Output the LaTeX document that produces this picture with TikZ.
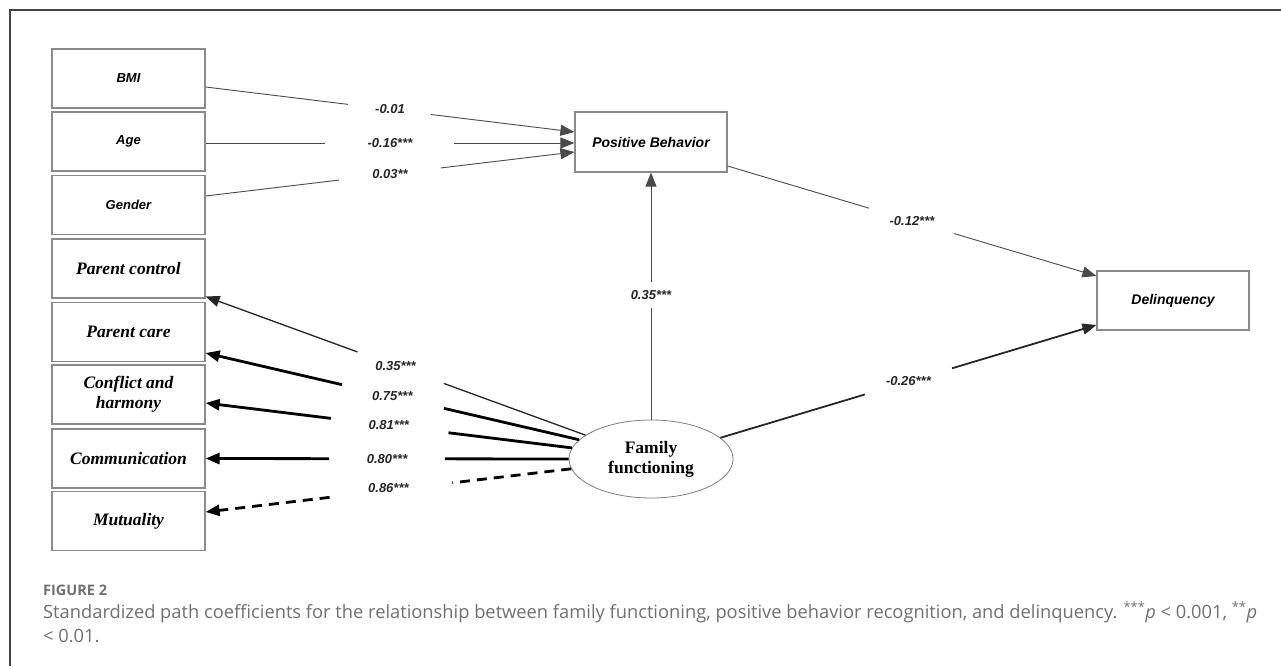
\documentclass[tikz,border=0pt]{standalone}
\usepackage{fontspec}
\setmainfont{Liberation Serif}
\newfontfamily\arialf{Liberation Sans}
\newfontfamily\capf{Open Sans}
\usetikzlibrary{arrows.meta,calc,shapes.geometric}
\definecolor{framec}{HTML}{444444}
\definecolor{boxc}{HTML}{8A8A8A}
\definecolor{linec}{HTML}{4A4A4A}
\definecolor{capc}{HTML}{707070}
\begin{document}
\begin{tikzpicture}[x=1pt,y=-1pt,
  box/.style={draw=boxc,line width=1.2pt,minimum width=153pt,minimum height=59pt,inner sep=0pt,fill=white,align=center},
  sansbox/.style={box,font=\arialf\bfseries\itshape\fontsize{13}{16}\selectfont},
  serifbox/.style={box,font=\bfseries\itshape\fontsize{17.5}{20}\selectfont},
  coef/.style={font=\arialf\bfseries\itshape\fontsize{13}{15}\selectfont,text=black!85,inner sep=1pt},
  tip/.style={-{Triangle[length=14pt,width=11pt]}},
  thinl/.style={line width=0.9pt,draw=linec},
  midl/.style={line width=1.3pt,draw=black!85},
  thickl/.style={line width=2.8pt,draw=black},
  dashl/.style={line width=2.8pt,draw=black,dash pattern=on 10pt off 7pt},
  capt/.style={anchor=base west,inner sep=0pt,text=capc}
]
\useasboundingbox (0,0) rectangle (1281,666);
\fill[white] (0,0) rectangle (1281,666);
\draw[framec,line width=1.5pt] (10,666) -- (10,10) -- (1281,10);

% boxes
\node[sansbox] (bmi) at (128.5,78.5) {BMI};
\node[sansbox] (age) at (128.5,141.5) {Age};
\node[sansbox] (gen) at (128.5,205) {Gender};
\node[serifbox] (pc) at (128.5,268.5) {Parent control};
\node[serifbox] (pca) at (128.5,332) {Parent care};
\node[serifbox] (con) at (128.5,394.5) {Conflict and\\harmony};
\node[serifbox] (com) at (128.5,458.5) {Communication};
\node[serifbox] (mut) at (128.5,521) {Mutuality};
\node[sansbox,minimum width=152pt,minimum height=60pt,font=\arialf\bfseries\itshape\fontsize{14}{16}\selectfont] (pb) at (651,142) {Positive Behavior};
\node[sansbox,minimum width=152pt,font=\arialf\bfseries\itshape\fontsize{14}{16}\selectfont] (del) at (1173,300.5) {Delinquency};
\node[ellipse,draw=gray,line width=0.8pt,minimum width=164pt,minimum height=78pt,inner sep=0pt,align=center,font=\bfseries\fontsize{17.5}{20}\selectfont] (ff) at (651,459) {Family\\functioning};

% endpoints
\coordinate (s1) at ([yshift=-8.5pt]bmi.east);
\coordinate (e1) at ([yshift=10pt]pb.west);
\coordinate (s2) at ([yshift=-1.5pt]age.east);
\coordinate (e2) at ([yshift=-1pt]pb.west);
\coordinate (s3) at ([yshift=9pt]gen.east);
\coordinate (e3) at ([yshift=-10pt]pb.west);
\coordinate (s4) at ([yshift=-24pt]pb.east);
\coordinate (e4) at ([yshift=24.5pt]del.west);
\coordinate (s5) at (ff.17);
\coordinate (e5) at ([yshift=-24.5pt]del.west);
\coordinate (s6) at (ff.160);
\coordinate (e6) at ([yshift=-28pt]pc.east);
\coordinate (s7) at (ff.165);
\coordinate (e7) at ([yshift=-21pt]pca.east);
\coordinate (s8) at (ff.172);
\coordinate (e8) at ([yshift=-8.5pt]con.east);
\coordinate (s9) at (ff.180);
\coordinate (e9) at (com.east);
\coordinate (s10) at (ff.187);
\coordinate (e10) at ([yshift=9pt]mut.east);

% BMI -> PB
\draw[thinl] (s1) -- ($(s1)!0.386!(e1)$);
\draw[thinl,tip] ($(s1)!0.611!(e1)$) -- (e1);
\path (s1) -- (e1) node[coef,pos=0.5] (l1) {-0.01};
% Age -> PB
\draw[thinl] (s2) -- ($(s2)!0.324!(e2)$);
\draw[thinl,tip] ($(s2)!0.673!(e2)$) -- (e2);
\path (s2) -- (e2) node[coef,pos=0.5] (l2) {-0.16***};
% Gender -> PB
\draw[thinl] (s3) -- ($(s3)!0.362!(e3)$);
\draw[thinl,tip] ($(s3)!0.638!(e3)$) -- (e3);
\path (s3) -- (e3) node[coef,pos=0.5] (l3) {0.03**};
% PB -> Del
\draw[thinl] (s4) -- ($(s4)!0.384!(e4)$);
\draw[thinl,tip] ($(s4)!0.614!(e4)$) -- (e4);
\path (s4) -- (e4) node[coef,pos=0.5] (l4) {-0.12***};
% FF -> PB
\draw[thinl] (ff.north) -- ($(ff.north)!0.452!(pb.south)$);
\draw[thinl,tip] ($(ff.north)!0.556!(pb.south)$) -- (pb.south);
\path (ff.north) -- (pb.south) node[coef,pos=0.504] (l5) {0.35***};
% FF -> Del
\draw[line width=1.8pt,draw=black!85] (s5) -- ($(s5)!0.384!(e5)$);
\draw[line width=1.8pt,draw=black!85,tip] ($(s5)!0.616!(e5)$) -- (e5);
\path (s5) -- (e5) node[coef,pos=0.5] (l6) {-0.26***};
% FF -> Parent control
\draw[midl] (s6) -- ($(s6)!0.373!(e6)$);
\draw[midl,tip] ($(s6)!0.6!(e6)$) -- (e6);
\path (s6) -- (e6) node[coef,pos=0.5] (l7) {0.35***};
% FF -> Parent care
\draw[thickl] (s7) -- ($(s7)!0.362!(e7)$);
\draw[thickl,tip] ($(s7)!0.635!(e7)$) -- (e7);
\path (s7) -- (e7) node[coef,pos=0.5] (l8) {0.75***};
% FF -> Conflict
\draw[thickl] (s8) -- ($(s8)!0.337!(e8)$);
\draw[thickl,tip] ($(s8)!0.658!(e8)$) -- (e8);
\path (s8) -- (e8) node[coef,pos=0.5] (l9) {0.81***};
% FF -> Communication
\draw[thickl] (s9) -- ($(s9)!0.34!(e9)$);
\draw[thickl,tip] ($(s9)!0.66!(e9)$) -- (e9);
\path (s9) -- (e9) node[coef,pos=0.5] (l10) {0.80***};
% FF -> Mutuality
\draw[dashl] (s10) -- ($(s10)!0.325!(e10)$);
\draw[dashl,tip] ($(s10)!0.661!(e10)$) -- (e10);
\path (s10) -- (e10) node[coef,pos=0.5,yshift=2pt] (l11) {0.86***};

% caption
\node[capt,font=\capf\bfseries\fontsize{14.5}{16}\selectfont] (fig) at (43,595) {FIGURE 2};
\node[capt,font=\capf\fontsize{18.3}{24}\selectfont] (cap1) at (43,618) {Standardized path coefficients for the relationship between family functioning, positive behavior recognition, and delinquency. \textsuperscript{***}\textit{p} < 0.001, \textsuperscript{**}\textit{p}};
\node[capt,font=\capf\fontsize{18.3}{24}\selectfont] (cap2) at (43,642) {< 0.01.};
\end{tikzpicture}
\end{document}
